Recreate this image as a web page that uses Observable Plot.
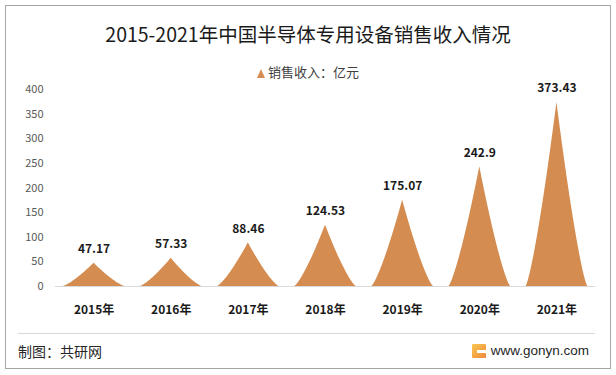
<!DOCTYPE html>
<html>
<head>
<meta charset="utf-8">
<script src="https://cdn.jsdelivr.net/npm/d3@7"></script>
<script src="https://cdn.jsdelivr.net/npm/@observablehq/plot@0.6"></script>
<style>
  html, body { margin: 0; padding: 0; background: #fff; }
  body { width: 616px; height: 375px; position: relative; overflow: hidden;
         font-family: "Microsoft YaHei", "Noto Sans CJK SC", "Noto Sans", sans-serif; }
  .frame { position: absolute; left: 5px; top: 5px; width: 604px; height: 362px; border: 1px solid #a6a6a6; }
  .title { position: absolute; left: 0; top: 22px; width: 616px; text-align: center;
           font-size: 19.5px; line-height: 24px; color: #1a1a1a; }
  .legend { position: absolute; left: 0; top: 63px; width: 616px; text-align: center;
            font-size: 13px; line-height: 18px; color: #404040; }
  .tri { display: inline-block; width: 0; height: 0; border-left: 4px solid transparent;
         border-right: 4px solid transparent; border-bottom: 9px solid #d48c50;
         margin-right: 3px; vertical-align: -1px; }
  #chart { position: absolute; left: 0; top: 74px; }
  #chart svg { overflow: visible; }
  .sep { position: absolute; left: 18px; top: 333px; width: 577px; height: 1px; background: #d9d9d9; }
  .src { position: absolute; left: 18px; top: 341px; font-size: 14px; line-height: 20px; color: #262626; }
  .site { position: absolute; right: 27px; top: 341px; font-size: 13.5px; line-height: 20px; color: #262626;
          font-family: "Liberation Sans", Arial, sans-serif; display: flex; align-items: center; }
  .logo { width: 14px; height: 14px; margin-right: 5px; position: relative;
          background: linear-gradient(135deg, #f9c74f, #f08a3c); border-radius: 1px; }
  .logo::after { content: ""; position: absolute; left: 5px; top: 6px; width: 9px; height: 3px; background: #fff; }
</style>
</head>
<body>
<div class="frame"></div>
<div class="title">2015-2021年中国半导体专用设备销售收入情况</div>
<div class="legend"><span class="tri"></span>销售收入：亿元</div>
<div id="chart"></div>
<div class="sep"></div>
<div class="src">制图：共研网</div>
<div class="site"><span class="logo"></span>www.gonyn.com</div>
<script>
const years = ["2015年", "2016年", "2017年", "2018年", "2019年", "2020年", "2021年"];
const revenue = [47.17, 57.33, 88.46, 124.53, 175.07, 242.9, 373.43];
const yTicks = [0, 50, 100, 150, 200, 250, 300, 350, 400];

const peakColor = "#d48c50";
const halfBase = 0.40;   // half of a peak's base, in category units
const curvePow = 1.3;    // concavity of the peak sides

// Build peak outlines from the data (shape geometry only)
const rows = years.map((year, i) => ({ i, year, value: revenue[i] }));
const shape = [];
for (const r of rows) {
  for (let k = -40; k <= 40; k++) {
    const t = k / 40;
    shape.push({ year: r.year, x: r.i + t * halfBase, y: r.value * Math.pow(1 - Math.abs(t), curvePow) });
  }
}

const chart = Plot.plot({
  width: 616,
  height: 256,
  marginLeft: 55,
  marginRight: 21,
  marginTop: 15,
  marginBottom: 44,
  style: { fontFamily: "'Microsoft YaHei','Noto Sans CJK SC','Noto Sans',sans-serif", color: "#1a1a1a", background: "transparent" },
  x: { domain: [-0.5, 6.5] },
  y: { domain: [0, 400] },
  marks: [
    Plot.areaY(shape, { x: "x", y: "y", z: "year", fill: peakColor }),
    Plot.ruleY([0], { stroke: "#d9d9d9", strokeWidth: 1 }),
    Plot.axisY({ ticks: yTicks, tickSize: 0, tickPadding: 12, fontSize: 11, color: "#595959", label: null }),
    Plot.axisX({ ticks: d3.range(years.length), tickFormat: i => years[i], tickSize: 0, tickPadding: 19,
                 fontSize: 12, fontWeight: "bold", color: "#1a1a1a", label: null }),
    Plot.text(rows, { x: "i", y: "value", text: d => String(d.value), dy: -14,
                      fontSize: 12, fontWeight: "bold", fill: "#1a1a1a" })
  ]
});
document.getElementById("chart").appendChild(chart);
</script>
</body>
</html>
